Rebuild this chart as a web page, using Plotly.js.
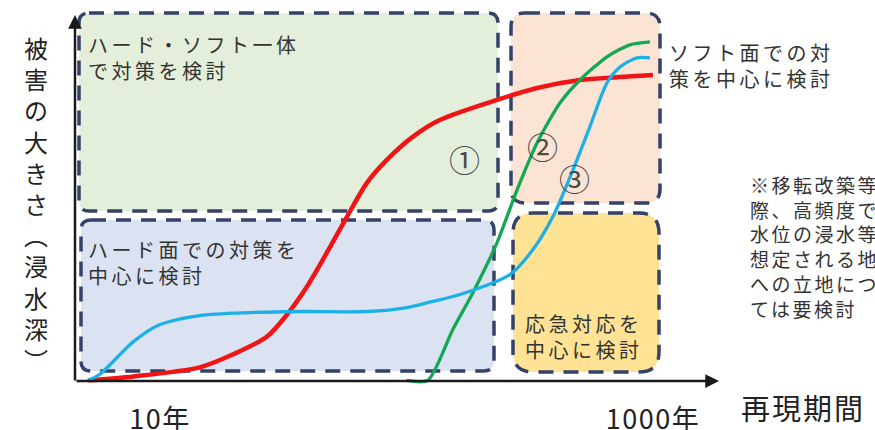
<!DOCTYPE html>
<html>
<head>
<meta charset="utf-8">
<script src="https://cdn.plot.ly/plotly-3.0.1.min.js"></script>
<style>
  html, body { margin: 0; padding: 0; background: #ffffff; overflow: hidden; }
  #chart { width: 875px; height: 430px; }
  .xtick text { letter-spacing: 1.5px; }
</style>
</head>
<body>
<div id="chart"></div>
<script>
// ---- data (return period in years, damage in relative units 0-100) ----
const periodRed   = [5.1, 7.8, 14.5, 19.8, 27.2, 32.8, 39.5, 47.6, 57.4, 69.1, 83.4, 106, 137, 233, 339, 506, 735, 1000];
const damageRed   = [0, 1.1, 3.6, 7.2, 12.1, 18.2, 25.9, 35.3, 45.2, 54.5, 60.9, 67.2, 71.9, 77.4, 80.7, 82.9, 83.7, 84.3];

const periodGreen = [100, 122, 154, 186, 233, 281, 339, 420, 506, 651, 807, 972];
const damageGreen = [0, 0, 14.0, 24.2, 38.0, 52.6, 65.6, 76.6, 82.9, 89.3, 92.6, 93.4];

const periodBlue  = [5.1, 5.7, 7.8, 10, 14.5, 23.2, 37, 69.1, 100.5, 128, 165, 263, 326, 393, 474, 555, 651, 735, 861, 972];
const damageBlue  = [0, 1.7, 10.7, 15.4, 17.9, 18.7, 19.0, 19.0, 20.1, 21.8, 23.7, 29.2, 36.1, 45.2, 58.1, 70.0, 82.1, 86.5, 89.0, 89.0];

const tickValues  = [10, 1000];
const tickLabels  = ['10年', '1000年'];
const curveLabels = ['①', '②', '③'];

// ---- layout helpers (plot area: x 75..718 px, y 18..384 px) ----
const L = 75, T = 18, W = 643, H = 366;
const px = x => (x - L) / W;
const py = y => (T + H - y) / H;

function roundRect(x0, y0, x1, y1, r) {
  const p = (x, y) => px(x).toFixed(5) + ',' + py(y).toFixed(5);
  return 'M' + p(x0 + r, y0) + ' L' + p(x1 - r, y0) + ' Q' + p(x1, y0) + ' ' + p(x1, y0 + r) +
         ' L' + p(x1, y1 - r) + ' Q' + p(x1, y1) + ' ' + p(x1 - r, y1) +
         ' L' + p(x0 + r, y1) + ' Q' + p(x0, y1) + ' ' + p(x0, y1 - r) +
         ' L' + p(x0, y0 + r) + ' Q' + p(x0, y0) + ' ' + p(x0 + r, y0) + ' Z';
}
const borderColor = '#34426a';
function box(x0, y0, x1, y1, r, fill) {
  return {
    type: 'path', xref: 'paper', yref: 'paper', layer: 'below',
    path: roundRect(x0, y0, x1, y1, r),
    fillcolor: fill,
    line: { color: borderColor, width: 3.5, dash: '15px,10px' }
  };
}

const FONT = '"Noto Sans CJK JP", "Noto Sans CJK SC", sans-serif';
const textColor = '#333333';
const spaced = (lines, sp) => lines.map(s => '<span style="letter-spacing:' + sp + 'px">' + s + '</span>').join('<br>');

const traces = [
  { x: periodRed, y: damageRed, type: 'scatter', mode: 'lines',
    line: { color: '#f01414', width: 4.5, shape: 'spline', smoothing: 0.8 }, hoverinfo: 'skip' },
  { x: periodGreen, y: damageGreen, type: 'scatter', mode: 'lines',
    line: { color: '#12a854', width: 3.3, shape: 'spline', smoothing: 0.7 }, hoverinfo: 'skip' },
  { x: periodBlue, y: damageBlue, type: 'scatter', mode: 'lines',
    line: { color: '#1cb0e6', width: 3.3, shape: 'spline', smoothing: 0.8 }, hoverinfo: 'skip' }
];

function note(text, xPx, yPx, size, extra) {
  return Object.assign({
    xref: 'paper', yref: 'paper', x: px(xPx), y: py(yPx),
    xanchor: 'left', yanchor: 'middle', align: 'left', showarrow: false,
    text: text, font: { family: FONT, size: size, color: textColor }
  }, extra || {});
}

const annotations = [
  // axes with arrowheads
  { xref: 'paper', yref: 'paper', x: px(719), y: py(381), ax: -644, ay: 0, text: '',
    showarrow: true, arrowhead: 2, arrowsize: 1.1, arrowwidth: 2.5, arrowcolor: '#1a1a1a', standoff: 0 },
  { xref: 'paper', yref: 'paper', x: px(75), y: py(15), ax: 0, ay: 367, text: '',
    showarrow: true, arrowhead: 2, arrowsize: 1.1, arrowwidth: 2.5, arrowcolor: '#1a1a1a', standoff: 0 },
  // box captions
  note(spaced(['ハード・ソフト一体', 'で対策を検討'], 3.5), 86, 57, 20),
  note(spaced(['ハード面での対策を', '中心に検討'], 3.5), 86, 262, 20),
  note(spaced(['応急対応を', '中心に検討'], 3.5), 523, 336, 20),
  note(spaced(['ソフト面での対', '策を中心に検討'], 3.5), 667, 65, 20),
  note(spaced(['※移転改築等の', '際、高頻度で低', '水位の浸水等が', '想定される地域', 'への立地につい', 'ては要検討'], 2.5), 748, 246, 19),
  // axis titles
  { xref: 'paper', yref: 'paper', x: px(36), y: py(203), xanchor: 'center', yanchor: 'middle',
    showarrow: false, align: 'center',
    text: '被<br>害<br>の<br>大<br>き<br>さ<br>︵<br>浸<br>水<br>深<br>︶',
    font: { family: FONT, size: 24, color: '#222222' } },
  { xref: 'paper', yref: 'paper', x: px(803), y: py(407), xanchor: 'center', yanchor: 'middle',
    showarrow: false, text: '<span style="letter-spacing:2px">再現期間</span>',
    font: { family: FONT, size: 29, color: '#222222' } },
  // curve labels
  { xref: 'paper', yref: 'paper', x: px(465), y: py(134), showarrow: false, text: curveLabels[0],
    font: { family: FONT, size: 31, color: '#4a4a4a' } },
  { xref: 'paper', yref: 'paper', x: px(560), y: py(145), showarrow: false, text: curveLabels[1],
    font: { family: FONT, size: 31, color: '#4a4a4a' } },
  { xref: 'paper', yref: 'paper', x: px(592), y: py(177), showarrow: false, text: curveLabels[2],
    font: { family: FONT, size: 31, color: '#4a4a4a' } }
];

const shapes = [
  box(79, 13, 498, 211, 10, '#e3efda'),
  box(81, 220, 494, 371, 10, '#dbe3f3'),
  box(511, 13, 660, 203, 14, '#fce4d5'),
  box(513, 213, 659, 372, 20, '#ffe294')
];

const layout = {
  width: 875, height: 430,
  margin: { l: L, r: 875 - L - W, t: T, b: 430 - T - H, pad: 0 },
  paper_bgcolor: '#ffffff', plot_bgcolor: 'rgba(0,0,0,0)',
  showlegend: false,
  xaxis: {
    type: 'log', range: [0.655, 3.264], tickvals: tickValues, ticktext: tickLabels,
    showgrid: false, zeroline: false, showline: false, ticks: '',
    ticklabelstandoff: 17,
    tickfont: { family: FONT, size: 27, color: '#222222' }, fixedrange: true
  },
  yaxis: {
    range: [-1, 100], showgrid: false, zeroline: false, showline: false,
    showticklabels: false, ticks: '', fixedrange: true
  },
  shapes: shapes,
  annotations: annotations
};

Plotly.newPlot('chart', traces, layout, { staticPlot: true, displayModeBar: false });
</script>
</body>
</html>
